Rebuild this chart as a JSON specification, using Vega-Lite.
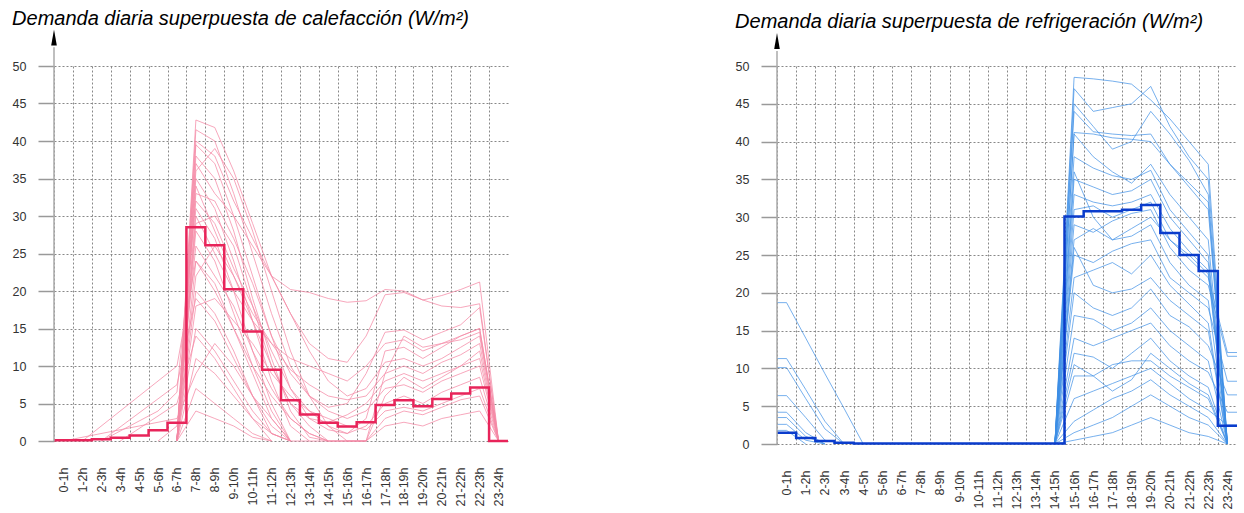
{
  "$schema": "https://vega.github.io/schema/vega-lite/v6.json",
  "padding": {"left": 12, "top": 8, "right": 4, "bottom": 0},
  "background": "white",
  "config": {"view": {"stroke": null}, "font": "Liberation Sans",
    "axisX": {"labelAngle": -90, "labelAlign": "right", "labelBaseline": "middle", "labelPadding": 26, "ticks": false, "domain": false, "grid": true, "gridDash": [2, 2], "gridColor": "#888", "gridWidth": 1, "title": null, "labelFontSize": 12.5, "labelColor": "#333", "labelFlush": false, "labelOverlap": false},
    "axisY": {"grid": true, "gridDash": [2, 2], "gridColor": "#888", "gridWidth": 1, "domain": false, "tickSize": 16, "tickColor": "#999", "tickWidth": 1.5, "labelPadding": 12, "labelFontSize": 12.5, "labelColor": "#333", "title": null, "labelOverlap": false}
  },
  "spacing": 222,
  "datasets": {
    "heat": [
      {"d":1,"x":6.5,"y":0},{"d":1,"x":7.5,"y":42.8},{"d":1,"x":8.5,"y":41.8},{"d":1,"x":9.5,"y":36},{"d":1,"x":10.5,"y":29},{"d":1,"x":11.5,"y":22},{"d":1,"x":12.5,"y":20.2},{"d":1,"x":13.5,"y":19.8},{"d":1,"x":14.5,"y":19},{"d":1,"x":15.5,"y":18.5},{"d":1,"x":16.5,"y":18.7},{"d":1,"x":17.5,"y":20.2},{"d":1,"x":18.5,"y":20},{"d":1,"x":19.5,"y":18.8},{"d":1,"x":20.5,"y":19.4},{"d":1,"x":21.5,"y":20.2},{"d":1,"x":22.5,"y":21.2},{"d":1,"x":23.5,"y":0},
      {"d":2,"x":6.5,"y":0},{"d":2,"x":7.5,"y":41.5},{"d":2,"x":8.5,"y":40},{"d":2,"x":9.5,"y":33},{"d":2,"x":10.5,"y":25},{"d":2,"x":11.5,"y":17},{"d":2,"x":12.5,"y":10},{"d":2,"x":13.5,"y":6},{"d":2,"x":14.5,"y":4.5},{"d":2,"x":15.5,"y":5},{"d":2,"x":16.5,"y":9},{"d":2,"x":17.5,"y":14.5},{"d":2,"x":18.5,"y":14.8},{"d":2,"x":19.5,"y":13.5},{"d":2,"x":20.5,"y":14.5},{"d":2,"x":21.5,"y":15.5},{"d":2,"x":22.5,"y":17.8},{"d":2,"x":23.5,"y":0},
      {"d":3,"x":6.5,"y":0},{"d":3,"x":7.5,"y":39.5},{"d":3,"x":8.5,"y":37},{"d":3,"x":9.5,"y":30},{"d":3,"x":10.5,"y":22},{"d":3,"x":11.5,"y":14},{"d":3,"x":12.5,"y":7},{"d":3,"x":13.5,"y":3},{"d":3,"x":14.5,"y":1.5},{"d":3,"x":15.5,"y":1},{"d":3,"x":16.5,"y":3},{"d":3,"x":17.5,"y":12},{"d":3,"x":18.5,"y":12.5},{"d":3,"x":19.5,"y":11},{"d":3,"x":20.5,"y":12.5},{"d":3,"x":21.5,"y":14},{"d":3,"x":22.5,"y":15},{"d":3,"x":23.5,"y":0},
      {"d":4,"x":6.5,"y":0},{"d":4,"x":7.5,"y":38},{"d":4,"x":8.5,"y":35},{"d":4,"x":9.5,"y":28},{"d":4,"x":10.5,"y":19},{"d":4,"x":11.5,"y":11},{"d":4,"x":12.5,"y":4},{"d":4,"x":13.5,"y":0.5},{"d":4,"x":14.5,"y":0},{"d":4,"x":16.5,"y":0},{"d":4,"x":17.5,"y":9},{"d":4,"x":18.5,"y":10},{"d":4,"x":19.5,"y":9},{"d":4,"x":20.5,"y":10.5},{"d":4,"x":21.5,"y":11.5},{"d":4,"x":22.5,"y":13},{"d":4,"x":23.5,"y":0},
      {"d":5,"x":6.5,"y":0},{"d":5,"x":7.5,"y":36},{"d":5,"x":8.5,"y":39},{"d":5,"x":9.5,"y":35},{"d":5,"x":10.5,"y":28},{"d":5,"x":11.5,"y":20},{"d":5,"x":12.5,"y":12},{"d":5,"x":13.5,"y":6},{"d":5,"x":14.5,"y":2},{"d":5,"x":15.5,"y":0},{"d":5,"x":16.5,"y":0},{"d":5,"x":17.5,"y":6},{"d":5,"x":18.5,"y":8.5},{"d":5,"x":19.5,"y":7},{"d":5,"x":20.5,"y":8.5},{"d":5,"x":21.5,"y":10},{"d":5,"x":22.5,"y":12},{"d":5,"x":23.5,"y":0},
      {"d":6,"x":6.5,"y":0},{"d":6,"x":7.5,"y":35},{"d":6,"x":8.5,"y":31},{"d":6,"x":9.5,"y":24},{"d":6,"x":10.5,"y":16},{"d":6,"x":11.5,"y":8},{"d":6,"x":12.5,"y":2},{"d":6,"x":13.5,"y":0},
      {"d":7,"x":6.5,"y":0},{"d":7,"x":7.5,"y":33},{"d":7,"x":8.5,"y":32},{"d":7,"x":9.5,"y":27},{"d":7,"x":10.5,"y":21},{"d":7,"x":11.5,"y":14},{"d":7,"x":12.5,"y":9},{"d":7,"x":13.5,"y":6},{"d":7,"x":14.5,"y":4},{"d":7,"x":15.5,"y":3},{"d":7,"x":16.5,"y":4},{"d":7,"x":17.5,"y":7},{"d":7,"x":18.5,"y":7.5},{"d":7,"x":19.5,"y":6.5},{"d":7,"x":20.5,"y":8},{"d":7,"x":21.5,"y":9},{"d":7,"x":22.5,"y":10},{"d":7,"x":23.5,"y":0},
      {"d":8,"x":6.5,"y":0},{"d":8,"x":7.5,"y":31},{"d":8,"x":8.5,"y":27},{"d":8,"x":9.5,"y":20},{"d":8,"x":10.5,"y":12},{"d":8,"x":11.5,"y":5},{"d":8,"x":12.5,"y":0},
      {"d":9,"x":6.5,"y":0},{"d":9,"x":7.5,"y":29},{"d":9,"x":8.5,"y":30},{"d":9,"x":9.5,"y":26},{"d":9,"x":10.5,"y":18},{"d":9,"x":11.5,"y":12},{"d":9,"x":12.5,"y":7},{"d":9,"x":13.5,"y":4},{"d":9,"x":14.5,"y":2},{"d":9,"x":15.5,"y":1},{"d":9,"x":16.5,"y":2},{"d":9,"x":17.5,"y":5},{"d":9,"x":18.5,"y":6},{"d":9,"x":19.5,"y":5},{"d":9,"x":20.5,"y":6.5},{"d":9,"x":21.5,"y":7.5},{"d":9,"x":22.5,"y":8.5},{"d":9,"x":23.5,"y":0},
      {"d":10,"x":6.5,"y":0},{"d":10,"x":7.5,"y":28},{"d":10,"x":8.5,"y":24},{"d":10,"x":9.5,"y":17},{"d":10,"x":10.5,"y":10},{"d":10,"x":11.5,"y":4},{"d":10,"x":12.5,"y":0},
      {"d":11,"x":5.5,"y":0},{"d":11,"x":6.5,"y":2},{"d":11,"x":7.5,"y":26},{"d":11,"x":8.5,"y":22},{"d":11,"x":9.5,"y":18},{"d":11,"x":10.5,"y":12},{"d":11,"x":11.5,"y":7},{"d":11,"x":12.5,"y":3},{"d":11,"x":13.5,"y":1},{"d":11,"x":14.5,"y":0},{"d":11,"x":16.5,"y":0},{"d":11,"x":17.5,"y":3},{"d":11,"x":18.5,"y":4},{"d":11,"x":19.5,"y":3.5},{"d":11,"x":20.5,"y":4.5},{"d":11,"x":21.5,"y":5.5},{"d":11,"x":22.5,"y":6},{"d":11,"x":23.5,"y":0},
      {"d":12,"x":6.5,"y":0},{"d":12,"x":7.5,"y":24},{"d":12,"x":8.5,"y":21},{"d":12,"x":9.5,"y":15},{"d":12,"x":10.5,"y":9},{"d":12,"x":11.5,"y":3},{"d":12,"x":12.5,"y":0},
      {"d":13,"x":6.5,"y":0},{"d":13,"x":7.5,"y":22},{"d":13,"x":8.5,"y":26},{"d":13,"x":9.5,"y":22},{"d":13,"x":10.5,"y":16},{"d":13,"x":11.5,"y":10},{"d":13,"x":12.5,"y":5},{"d":13,"x":13.5,"y":3},{"d":13,"x":14.5,"y":2.5},{"d":13,"x":15.5,"y":3.5},{"d":13,"x":16.5,"y":5},{"d":13,"x":17.5,"y":8},{"d":13,"x":18.5,"y":9},{"d":13,"x":19.5,"y":8},{"d":13,"x":20.5,"y":9},{"d":13,"x":21.5,"y":10},{"d":13,"x":22.5,"y":11},{"d":13,"x":23.5,"y":0},
      {"d":14,"x":6.5,"y":0},{"d":14,"x":7.5,"y":20},{"d":14,"x":8.5,"y":17},{"d":14,"x":9.5,"y":12},{"d":14,"x":10.5,"y":6},{"d":14,"x":11.5,"y":1},{"d":14,"x":12.5,"y":0},
      {"d":15,"x":6.5,"y":0},{"d":15,"x":7.5,"y":18},{"d":15,"x":8.5,"y":19},{"d":15,"x":9.5,"y":16},{"d":15,"x":10.5,"y":13},{"d":15,"x":11.5,"y":9},{"d":15,"x":12.5,"y":6},{"d":15,"x":13.5,"y":4},{"d":15,"x":14.5,"y":3},{"d":15,"x":15.5,"y":2},{"d":15,"x":16.5,"y":1.5},{"d":15,"x":17.5,"y":4},{"d":15,"x":18.5,"y":4.5},{"d":15,"x":19.5,"y":4},{"d":15,"x":20.5,"y":5},{"d":15,"x":21.5,"y":6},{"d":15,"x":22.5,"y":7},{"d":15,"x":23.5,"y":0},
      {"d":16,"x":6.5,"y":0},{"d":16,"x":7.5,"y":15},{"d":16,"x":8.5,"y":12},{"d":16,"x":9.5,"y":8},{"d":16,"x":10.5,"y":4},{"d":16,"x":11.5,"y":1},{"d":16,"x":12.5,"y":0},
      {"d":17,"x":1.5,"y":0},{"d":17,"x":6.5,"y":10},{"d":17,"x":7.5,"y":24},{"d":17,"x":8.5,"y":20},{"d":17,"x":9.5,"y":15},{"d":17,"x":10.5,"y":10},{"d":17,"x":11.5,"y":6},{"d":17,"x":12.5,"y":3},{"d":17,"x":13.5,"y":1},{"d":17,"x":14.5,"y":0},
      {"d":18,"x":2.5,"y":0},{"d":18,"x":6.5,"y":7.5},{"d":18,"x":7.5,"y":19},{"d":18,"x":8.5,"y":16},{"d":18,"x":9.5,"y":11},{"d":18,"x":10.5,"y":6},{"d":18,"x":11.5,"y":2},{"d":18,"x":12.5,"y":0},
      {"d":19,"x":3.5,"y":0},{"d":19,"x":6.5,"y":5},{"d":19,"x":7.5,"y":14},{"d":19,"x":8.5,"y":11},{"d":19,"x":9.5,"y":7},{"d":19,"x":10.5,"y":3},{"d":19,"x":11.5,"y":0},
      {"d":20,"x":6.5,"y":0},{"d":20,"x":7.5,"y":11},{"d":20,"x":8.5,"y":9},{"d":20,"x":9.5,"y":6},{"d":20,"x":10.5,"y":3},{"d":20,"x":11.5,"y":1},{"d":20,"x":12.5,"y":0},{"d":20,"x":16.5,"y":0},{"d":20,"x":17.5,"y":2},{"d":20,"x":18.5,"y":2.5},{"d":20,"x":19.5,"y":2},{"d":20,"x":20.5,"y":3},{"d":20,"x":21.5,"y":3.5},{"d":20,"x":22.5,"y":4},{"d":20,"x":23.5,"y":0},
      {"d":21,"x":6.5,"y":0},{"d":21,"x":7.5,"y":7},{"d":21,"x":8.5,"y":5},{"d":21,"x":9.5,"y":3},{"d":21,"x":10.5,"y":1},{"d":21,"x":11.5,"y":0},
      {"d":22,"x":6.5,"y":0},{"d":22,"x":7.5,"y":4},{"d":22,"x":8.5,"y":3},{"d":22,"x":9.5,"y":2},{"d":22,"x":10.5,"y":0.5},{"d":22,"x":11.5,"y":0},
      {"d":23,"x":6.5,"y":0},{"d":23,"x":7.5,"y":37},{"d":23,"x":8.5,"y":33},{"d":23,"x":9.5,"y":30},{"d":23,"x":10.5,"y":26},{"d":23,"x":11.5,"y":22},{"d":23,"x":12.5,"y":17},{"d":23,"x":13.5,"y":12},{"d":23,"x":14.5,"y":8},{"d":23,"x":15.5,"y":6},{"d":23,"x":16.5,"y":7},{"d":23,"x":17.5,"y":10.5},{"d":23,"x":18.5,"y":11},{"d":23,"x":19.5,"y":10},{"d":23,"x":20.5,"y":11},{"d":23,"x":21.5,"y":12.5},{"d":23,"x":22.5,"y":14},{"d":23,"x":23.5,"y":0},
      {"d":24,"x":6.5,"y":0},{"d":24,"x":7.5,"y":34},{"d":24,"x":8.5,"y":28},{"d":24,"x":9.5,"y":22},{"d":24,"x":10.5,"y":17},{"d":24,"x":11.5,"y":13},{"d":24,"x":12.5,"y":9.5},{"d":24,"x":13.5,"y":7.5},{"d":24,"x":14.5,"y":6},{"d":24,"x":15.5,"y":5.5},{"d":24,"x":16.5,"y":6},{"d":24,"x":17.5,"y":9},{"d":24,"x":18.5,"y":14},{"d":24,"x":19.5,"y":12.5},{"d":24,"x":20.5,"y":13},{"d":24,"x":21.5,"y":13.5},{"d":24,"x":22.5,"y":14.5},{"d":24,"x":23.5,"y":0},
      {"d":25,"x":6.5,"y":0},{"d":25,"x":7.5,"y":30},{"d":25,"x":8.5,"y":25},{"d":25,"x":9.5,"y":20},{"d":25,"x":10.5,"y":16},{"d":25,"x":11.5,"y":13},{"d":25,"x":12.5,"y":11},{"d":25,"x":13.5,"y":10},{"d":25,"x":14.5,"y":9},{"d":25,"x":15.5,"y":8},{"d":25,"x":16.5,"y":10},{"d":25,"x":17.5,"y":13},{"d":25,"x":18.5,"y":13.5},{"d":25,"x":19.5,"y":12},{"d":25,"x":20.5,"y":13},{"d":25,"x":21.5,"y":14},{"d":25,"x":22.5,"y":15},{"d":25,"x":23.5,"y":0},
      {"d":26,"x":6.5,"y":0},{"d":26,"x":7.5,"y":40},{"d":26,"x":8.5,"y":38},{"d":26,"x":9.5,"y":32},{"d":26,"x":10.5,"y":27},{"d":26,"x":11.5,"y":22},{"d":26,"x":12.5,"y":17},{"d":26,"x":13.5,"y":13},{"d":26,"x":14.5,"y":11},{"d":26,"x":15.5,"y":10.5},{"d":26,"x":16.5,"y":14},{"d":26,"x":17.5,"y":19.5},{"d":26,"x":18.5,"y":19.8},{"d":26,"x":19.5,"y":18.8},{"d":26,"x":20.5,"y":18},{"d":26,"x":21.5,"y":17.8},{"d":26,"x":22.5,"y":18.3},{"d":26,"x":23.5,"y":0},
      {"d":27,"x":0.5,"y":0},{"d":27,"x":6.5,"y":3},{"d":27,"x":7.5,"y":9},{"d":27,"x":8.5,"y":13},{"d":27,"x":9.5,"y":10},{"d":27,"x":10.5,"y":6},{"d":27,"x":11.5,"y":3},{"d":27,"x":12.5,"y":0},
      {"d":28,"x":2.5,"y":0},{"d":28,"x":5.5,"y":4},{"d":28,"x":6.5,"y":6.5},{"d":28,"x":7.5,"y":32},{"d":28,"x":8.5,"y":29},{"d":28,"x":9.5,"y":23},{"d":28,"x":10.5,"y":18},{"d":28,"x":11.5,"y":10},{"d":28,"x":12.5,"y":5},{"d":28,"x":13.5,"y":2},{"d":28,"x":14.5,"y":0}
    ],
    "heatMean": [
      {"x":0,"y":0.1},{"x":1,"y":0.1},{"x":2,"y":0.25},{"x":3,"y":0.45},{"x":4,"y":0.75},{"x":5,"y":1.45},{"x":6,"y":2.45},{"x":7,"y":28.5},{"x":8,"y":26.1},{"x":9,"y":20.25},{"x":10,"y":14.6},{"x":11,"y":9.5},{"x":12,"y":5.45},{"x":13,"y":3.55},{"x":14,"y":2.45},{"x":15,"y":1.95},{"x":16,"y":2.5},{"x":17,"y":4.8},{"x":18,"y":5.45},{"x":19,"y":4.65},{"x":20,"y":5.6},{"x":21,"y":6.35},{"x":22,"y":7.15},{"x":23,"y":0},{"x":24,"y":0}
    ],
    "cool": [
      {"d":1,"x":14.5,"y":0},{"d":1,"x":15.5,"y":48.5},{"d":1,"x":16.5,"y":48.3},{"d":1,"x":17.5,"y":48},{"d":1,"x":18.5,"y":47.6},{"d":1,"x":19.5,"y":45.5},{"d":1,"x":20.5,"y":43},{"d":1,"x":21.5,"y":40},{"d":1,"x":22.5,"y":37},{"d":1,"x":23.5,"y":0},
      {"d":2,"x":14.5,"y":0},{"d":2,"x":15.5,"y":47},{"d":2,"x":16.5,"y":44},{"d":2,"x":17.5,"y":44.5},{"d":2,"x":18.5,"y":45},{"d":2,"x":19.5,"y":47.3},{"d":2,"x":20.5,"y":42},{"d":2,"x":21.5,"y":38},{"d":2,"x":22.5,"y":35},{"d":2,"x":23.5,"y":0},
      {"d":3,"x":14.5,"y":0},{"d":3,"x":15.5,"y":45},{"d":3,"x":16.5,"y":42},{"d":3,"x":17.5,"y":39},{"d":3,"x":18.5,"y":40},{"d":3,"x":19.5,"y":44},{"d":3,"x":20.5,"y":41},{"d":3,"x":21.5,"y":37.5},{"d":3,"x":22.5,"y":33},{"d":3,"x":23.5,"y":0},
      {"d":4,"x":14.5,"y":0},{"d":4,"x":15.5,"y":41.2},{"d":4,"x":16.5,"y":41},{"d":4,"x":17.5,"y":40.5},{"d":4,"x":18.5,"y":40.3},{"d":4,"x":19.5,"y":40},{"d":4,"x":20.5,"y":37},{"d":4,"x":21.5,"y":34},{"d":4,"x":22.5,"y":31},{"d":4,"x":23.5,"y":0},
      {"d":5,"x":14.5,"y":0},{"d":5,"x":15.5,"y":41},{"d":5,"x":16.5,"y":38},{"d":5,"x":17.5,"y":36},{"d":5,"x":18.5,"y":34.5},{"d":5,"x":19.5,"y":37},{"d":5,"x":20.5,"y":33},{"d":5,"x":21.5,"y":30},{"d":5,"x":22.5,"y":27},{"d":5,"x":23.5,"y":0},
      {"d":6,"x":14.5,"y":0},{"d":6,"x":15.5,"y":38},{"d":6,"x":16.5,"y":36.5},{"d":6,"x":17.5,"y":35.5},{"d":6,"x":18.5,"y":35},{"d":6,"x":19.5,"y":36.2},{"d":6,"x":20.5,"y":31},{"d":6,"x":21.5,"y":28},{"d":6,"x":22.5,"y":25},{"d":6,"x":23.5,"y":0},
      {"d":7,"x":14.5,"y":0},{"d":7,"x":15.5,"y":35},{"d":7,"x":16.5,"y":34},{"d":7,"x":17.5,"y":33},{"d":7,"x":18.5,"y":33.5},{"d":7,"x":19.5,"y":35},{"d":7,"x":20.5,"y":30},{"d":7,"x":21.5,"y":27},{"d":7,"x":22.5,"y":24},{"d":7,"x":23.5,"y":0},
      {"d":8,"x":14.5,"y":0},{"d":8,"x":15.5,"y":33},{"d":8,"x":16.5,"y":32},{"d":8,"x":17.5,"y":31.5},{"d":8,"x":18.5,"y":32},{"d":8,"x":19.5,"y":33},{"d":8,"x":20.5,"y":28.5},{"d":8,"x":21.5,"y":25.5},{"d":8,"x":22.5,"y":23},{"d":8,"x":23.5,"y":0},
      {"d":9,"x":14.5,"y":0},{"d":9,"x":15.5,"y":31},{"d":9,"x":16.5,"y":31.5},{"d":9,"x":17.5,"y":30},{"d":9,"x":18.5,"y":31},{"d":9,"x":19.5,"y":32},{"d":9,"x":20.5,"y":27},{"d":9,"x":21.5,"y":24.5},{"d":9,"x":22.5,"y":22},{"d":9,"x":23.5,"y":12.1},{"d":9,"x":24,"y":12.1},
      {"d":10,"x":14.5,"y":0},{"d":10,"x":15.5,"y":29},{"d":10,"x":16.5,"y":28},{"d":10,"x":17.5,"y":29.5},{"d":10,"x":18.5,"y":30.5},{"d":10,"x":19.5,"y":31},{"d":10,"x":20.5,"y":26},{"d":10,"x":21.5,"y":23},{"d":10,"x":22.5,"y":21},{"d":10,"x":23.5,"y":11.6},{"d":10,"x":24,"y":11.6},
      {"d":11,"x":14.5,"y":0},{"d":11,"x":15.5,"y":27},{"d":11,"x":16.5,"y":28.5},{"d":11,"x":17.5,"y":27},{"d":11,"x":18.5,"y":27.5},{"d":11,"x":19.5,"y":29},{"d":11,"x":20.5,"y":24},{"d":11,"x":21.5,"y":21},{"d":11,"x":22.5,"y":19},{"d":11,"x":23.5,"y":0},
      {"d":12,"x":14.5,"y":0},{"d":12,"x":15.5,"y":25},{"d":12,"x":16.5,"y":24},{"d":12,"x":17.5,"y":25.5},{"d":12,"x":18.5,"y":26.5},{"d":12,"x":19.5,"y":27},{"d":12,"x":20.5,"y":22},{"d":12,"x":21.5,"y":20},{"d":12,"x":22.5,"y":18},{"d":12,"x":23.5,"y":8.3},{"d":12,"x":24,"y":8.3},
      {"d":13,"x":14.5,"y":0},{"d":13,"x":15.5,"y":22},{"d":13,"x":16.5,"y":23},{"d":13,"x":17.5,"y":24},{"d":13,"x":18.5,"y":22.5},{"d":13,"x":19.5,"y":25},{"d":13,"x":20.5,"y":21},{"d":13,"x":21.5,"y":18.5},{"d":13,"x":22.5,"y":16},{"d":13,"x":23.5,"y":0},
      {"d":14,"x":14.5,"y":0},{"d":14,"x":15.5,"y":20},{"d":14,"x":16.5,"y":18},{"d":14,"x":17.5,"y":17},{"d":14,"x":18.5,"y":18},{"d":14,"x":19.5,"y":20.5},{"d":14,"x":20.5,"y":17},{"d":14,"x":21.5,"y":15.5},{"d":14,"x":22.5,"y":13},{"d":14,"x":23.5,"y":6.5},{"d":14,"x":24,"y":6.5},
      {"d":15,"x":14.5,"y":0},{"d":15,"x":15.5,"y":17},{"d":15,"x":16.5,"y":16.5},{"d":15,"x":17.5,"y":15},{"d":15,"x":18.5,"y":16},{"d":15,"x":19.5,"y":18},{"d":15,"x":20.5,"y":15},{"d":15,"x":21.5,"y":13},{"d":15,"x":22.5,"y":11},{"d":15,"x":23.5,"y":0},
      {"d":16,"x":14.5,"y":0},{"d":16,"x":15.5,"y":14},{"d":16,"x":16.5,"y":13},{"d":16,"x":17.5,"y":14},{"d":16,"x":18.5,"y":15},{"d":16,"x":19.5,"y":16},{"d":16,"x":20.5,"y":13},{"d":16,"x":21.5,"y":11},{"d":16,"x":22.5,"y":9.5},{"d":16,"x":23.5,"y":4.2},{"d":16,"x":24,"y":4.2},
      {"d":17,"x":14.5,"y":0},{"d":17,"x":15.5,"y":12},{"d":17,"x":16.5,"y":11.5},{"d":17,"x":17.5,"y":10},{"d":17,"x":18.5,"y":12},{"d":17,"x":19.5,"y":14},{"d":17,"x":20.5,"y":11},{"d":17,"x":21.5,"y":9},{"d":17,"x":22.5,"y":7.5},{"d":17,"x":23.5,"y":0},
      {"d":18,"x":14.5,"y":0},{"d":18,"x":15.5,"y":9},{"d":18,"x":16.5,"y":9},{"d":18,"x":17.5,"y":10.5},{"d":18,"x":18.5,"y":11},{"d":18,"x":19.5,"y":11},{"d":18,"x":20.5,"y":9},{"d":18,"x":21.5,"y":7.5},{"d":18,"x":22.5,"y":6},{"d":18,"x":23.5,"y":0},
      {"d":19,"x":14.5,"y":0},{"d":19,"x":15.5,"y":6},{"d":19,"x":16.5,"y":7},{"d":19,"x":17.5,"y":8},{"d":19,"x":18.5,"y":9},{"d":19,"x":19.5,"y":10},{"d":19,"x":20.5,"y":8},{"d":19,"x":21.5,"y":6},{"d":19,"x":22.5,"y":4.5},{"d":19,"x":23.5,"y":2.5},{"d":19,"x":24,"y":2.5},
      {"d":20,"x":14.5,"y":0},{"d":20,"x":15.5,"y":3},{"d":20,"x":16.5,"y":4.5},{"d":20,"x":17.5,"y":6},{"d":20,"x":18.5,"y":7},{"d":20,"x":19.5,"y":8.5},{"d":20,"x":20.5,"y":6.5},{"d":20,"x":21.5,"y":5},{"d":20,"x":22.5,"y":3.5},{"d":20,"x":23.5,"y":0},
      {"d":21,"x":14.5,"y":0},{"d":21,"x":15.5,"y":1.5},{"d":21,"x":16.5,"y":2.5},{"d":21,"x":17.5,"y":3.5},{"d":21,"x":18.5,"y":5},{"d":21,"x":19.5,"y":6.5},{"d":21,"x":20.5,"y":5},{"d":21,"x":21.5,"y":3.5},{"d":21,"x":22.5,"y":2.5},{"d":21,"x":23.5,"y":0},
      {"d":22,"x":14.5,"y":0},{"d":22,"x":15.5,"y":0.5},{"d":22,"x":16.5,"y":1},{"d":22,"x":17.5,"y":1.5},{"d":22,"x":18.5,"y":2.5},{"d":22,"x":19.5,"y":3.5},{"d":22,"x":20.5,"y":2.5},{"d":22,"x":21.5,"y":1.5},{"d":22,"x":22.5,"y":1},{"d":22,"x":23.5,"y":0},
      {"d":23,"x":14.5,"y":0},{"d":23,"x":15.5,"y":36},{"d":23,"x":16.5,"y":30},{"d":23,"x":17.5,"y":27},{"d":23,"x":18.5,"y":28.5},{"d":23,"x":19.5,"y":30},{"d":23,"x":20.5,"y":27},{"d":23,"x":21.5,"y":25},{"d":23,"x":22.5,"y":22.5},{"d":23,"x":23.5,"y":0},
      {"d":24,"x":14.5,"y":0},{"d":24,"x":15.5,"y":26},{"d":24,"x":16.5,"y":21},{"d":24,"x":17.5,"y":20},{"d":24,"x":18.5,"y":20.5},{"d":24,"x":19.5,"y":22},{"d":24,"x":20.5,"y":19},{"d":24,"x":21.5,"y":17},{"d":24,"x":22.5,"y":15},{"d":24,"x":23.5,"y":0},
      {"d":25,"x":14.5,"y":0},{"d":25,"x":15.5,"y":44},{"d":25,"x":16.5,"y":41.3},{"d":25,"x":17.5,"y":41},{"d":25,"x":18.5,"y":40.8},{"d":25,"x":19.5,"y":41},{"d":25,"x":20.5,"y":37},{"d":25,"x":21.5,"y":34.5},{"d":25,"x":22.5,"y":32},{"d":25,"x":23.5,"y":0},
      {"d":26,"x":14.5,"y":0},{"d":26,"x":15.5,"y":10.5},{"d":26,"x":16.5,"y":9},{"d":26,"x":17.5,"y":7},{"d":26,"x":18.5,"y":8.5},{"d":26,"x":19.5,"y":12},{"d":26,"x":20.5,"y":10},{"d":26,"x":21.5,"y":8},{"d":26,"x":22.5,"y":6.5},{"d":26,"x":23.5,"y":0},
      {"d":31,"x":0,"y":18.7},{"d":31,"x":0.5,"y":18.7},{"d":31,"x":1.5,"y":14},{"d":31,"x":2.5,"y":9.3},{"d":31,"x":3.5,"y":4.7},{"d":31,"x":4.5,"y":0},
      {"d":32,"x":0,"y":11.3},{"d":32,"x":0.5,"y":11.3},{"d":32,"x":1.5,"y":7.2},{"d":32,"x":2.5,"y":3},{"d":32,"x":3.5,"y":0},
      {"d":33,"x":0,"y":10.1},{"d":33,"x":0.5,"y":10.1},{"d":33,"x":1.5,"y":6},{"d":33,"x":2.5,"y":2},{"d":33,"x":3.5,"y":0},
      {"d":34,"x":0,"y":6.4},{"d":34,"x":0.5,"y":6.4},{"d":34,"x":1.5,"y":3.5},{"d":34,"x":2.5,"y":0.5},{"d":34,"x":3.5,"y":0},
      {"d":35,"x":0,"y":4.2},{"d":35,"x":0.5,"y":4.2},{"d":35,"x":1.5,"y":1.5},{"d":35,"x":2.5,"y":0},
      {"d":36,"x":0,"y":3.5},{"d":36,"x":0.5,"y":3.5},{"d":36,"x":1.5,"y":1},{"d":36,"x":2.5,"y":0},
      {"d":37,"x":0,"y":2.6},{"d":37,"x":0.5,"y":2.6},{"d":37,"x":1.5,"y":0.5},{"d":37,"x":2.5,"y":0},
      {"d":38,"x":0,"y":1.8},{"d":38,"x":0.5,"y":1.8},{"d":38,"x":1.5,"y":0}
    ],
    "coolMean": [
      {"x":0,"y":1.5},{"x":1,"y":0.8},{"x":2,"y":0.4},{"x":3,"y":0.15},{"x":4,"y":0.05},{"x":5,"y":0.05},{"x":6,"y":0.05},{"x":7,"y":0.05},{"x":8,"y":0.05},{"x":9,"y":0.05},{"x":10,"y":0.05},{"x":11,"y":0.05},{"x":12,"y":0.05},{"x":13,"y":0.05},{"x":14,"y":0.05},{"x":15,"y":30.1},{"x":16,"y":30.8},{"x":17,"y":30.8},{"x":18,"y":31.0},{"x":19,"y":31.6},{"x":20,"y":27.9},{"x":21,"y":25.0},{"x":22,"y":22.9},{"x":23,"y":2.4},{"x":24,"y":2.4}
    ]
  },
  "hconcat": [
    {
      "title": {"text": "Demanda diaria superpuesta de calefacción (W/m²)", "anchor": "start", "fontStyle": "italic", "fontWeight": "normal", "fontSize": 20, "color": "#000", "offset": 1, "font": "Liberation Sans"},
      "width": 454,
      "height": 375,
      "encoding": {
        "x": {"type": "quantitative", "scale": {"domain": [0, 24], "nice": false, "zero": false}, "axis": {"labelOffset": 9.45, "values": [0,1,2,3,4,5,6,7,8,9,10,11,12,13,14,15,16,17,18,19,20,21,22,23], "labelExpr": "datum.value + '-' + (datum.value + 1) + 'h'"}},
        "y": {"type": "quantitative", "scale": {"domain": [0, 50], "nice": false}, "axis": {"values": [0,5,10,15,20,25,30,35,40,45,50]}}
      },
      "layer": [
        {
          "data": {"name": "heat"},
          "mark": {"type": "line", "color": "#f48aa6", "strokeWidth": 1, "opacity": 0.75},
          "encoding": {
            "x": {"field": "x", "type": "quantitative"},
            "y": {"field": "y", "type": "quantitative"},
            "detail": {"field": "d", "type": "nominal"}
          }
        },
        {
          "data": {"name": "heatMean"},
          "mark": {"type": "line", "color": "#e8245a", "strokeWidth": 2.5, "interpolate": "step-after"},
          "encoding": {
            "x": {"field": "x", "type": "quantitative"},
            "y": {"field": "y", "type": "quantitative"}
          }
        },
        {
          "data": {"values": [{}]},
          "mark": {"type": "rule", "color": "#aaa", "strokeWidth": 1.5},
          "encoding": {"x": {"datum": 0, "type": "quantitative"}, "y": {"datum": 0, "type": "quantitative"}, "y2": {"datum": 52.5}}
        },
        {
          "data": {"values": [{}]},
          "mark": {"type": "point", "shape": "M0,-1L0.35,1L-0.35,1Z", "filled": true, "color": "#000", "opacity": 1, "size": 256},
          "encoding": {"x": {"datum": 0, "type": "quantitative"}, "y": {"datum": 53.8, "type": "quantitative"}}
        }
      ]
    },
    {
      "title": {"text": "Demanda diaria superpuesta de refrigeración (W/m²)", "anchor": "start", "fontStyle": "italic", "fontWeight": "normal", "fontSize": 20, "color": "#000", "offset": 1, "font": "Liberation Sans"},
      "width": 460,
      "height": 378,
      "encoding": {
        "x": {"type": "quantitative", "scale": {"domain": [0, 24], "nice": false, "zero": false}, "axis": {"labelOffset": 9.6, "values": [0,1,2,3,4,5,6,7,8,9,10,11,12,13,14,15,16,17,18,19,20,21,22,23], "labelExpr": "datum.value + '-' + (datum.value + 1) + 'h'"}},
        "y": {"type": "quantitative", "scale": {"domain": [0, 50], "nice": false}, "axis": {"values": [0,5,10,15,20,25,30,35,40,45,50]}}
      },
      "layer": [
        {
          "data": {"name": "cool"},
          "mark": {"type": "line", "color": "#3d8ee6", "strokeWidth": 1, "opacity": 0.7},
          "encoding": {
            "x": {"field": "x", "type": "quantitative"},
            "y": {"field": "y", "type": "quantitative"},
            "detail": {"field": "d", "type": "nominal"}
          }
        },
        {
          "data": {"name": "coolMean"},
          "mark": {"type": "line", "color": "#0a3ccc", "strokeWidth": 2.5, "interpolate": "step-after"},
          "encoding": {
            "x": {"field": "x", "type": "quantitative"},
            "y": {"field": "y", "type": "quantitative"}
          }
        },
        {
          "data": {"values": [{}]},
          "mark": {"type": "rule", "color": "#aaa", "strokeWidth": 1.5},
          "encoding": {"x": {"datum": 0, "type": "quantitative"}, "y": {"datum": 0, "type": "quantitative"}, "y2": {"datum": 52}}
        },
        {
          "data": {"values": [{}]},
          "mark": {"type": "point", "shape": "M0,-1L0.35,1L-0.35,1Z", "filled": true, "color": "#000", "opacity": 1, "size": 256},
          "encoding": {"x": {"datum": 0, "type": "quantitative"}, "y": {"datum": 53.3, "type": "quantitative"}}
        }
      ]
    }
  ]
}
